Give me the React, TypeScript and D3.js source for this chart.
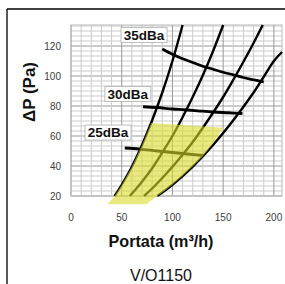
import React from 'react';
import * as d3 from 'd3';

const W = 285;
const H = 284;

// axis ticks
const flowTicks = [0, 50, 100, 150, 200];
const pressureTicks = [20, 40, 60, 80, 100, 120];

// system curves [portata, ΔP]
const curveA = [[43, 20], [50, 27.5], [60, 39.5], [70, 54], [80, 70.5], [90, 89], [100, 110], [110, 134]];
const curveB = [[58, 20], [60, 21.5], [70, 29.5], [80, 38.5], [90, 49], [100, 60], [110, 72.5], [120, 86], [130, 100.5], [140, 116.5], [150, 134]];
const curveC = [[72, 20], [80, 25], [90, 32], [100, 39.5], [110, 47.5], [120, 56], [130, 65.5], [140, 75.5], [150, 86], [160, 97.5], [170, 109.5], [180, 122], [189, 134]];
const curveD = [[85, 20], [90, 22.3], [100, 27.5], [110, 33.3], [120, 39.6], [130, 46.5], [140, 54], [150, 62], [160, 70.5], [170, 79.5], [180, 89], [190, 99.5], [200, 110], [208, 116]];

// iso-noise lines
const noiseNames = ['25dBa', '30dBa', '35dBa'];
const noise25 = [[53, 52], [68, 51.3], [85, 50], [100, 49], [115, 48], [130, 47]];
const noise30 = [[71, 79.5], [85, 79], [100, 78], [112, 77.5], [125, 76.8], [140, 76], [155, 75.5], [169, 75]];
const noise35 = [[90, 118], [100, 114.5], [110, 111.5], [120, 109], [130, 106.5], [140, 104.5], [150, 102.5], [160, 100.8], [170, 99], [180, 97.5], [190, 96]];
const labelSpots = [[36.5, 62.3], [56, 88], [72, 127.3]];

// yellow working zone
const workZone = [[36, 14.5], [43, 20], [50, 27.5], [60, 39.5], [70, 54], [79, 68.7], [150, 65.5], [140, 55], [130, 46.5], [120, 39.6], [110, 33.3], [100, 27.5], [90, 22.3], [85, 20], [74, 14.5]];

export default function App() {
  const x = d3.scaleLinear().domain([0, 208]).range([71, 282]);
  const y = d3.scaleLinear().domain([20, 134]).range([196, 25]);

  const line = d3.line<number[]>().x(d => x(d[0])).y(d => y(d[1])).curve(d3.curveCatmullRom);
  const zone = d3.line<number[]>().x(d => x(d[0])).y(d => y(d[1])).curve(d3.curveLinearClosed);

  const vGrid = d3.range(0, 201, 10);
  const hGrid = d3.range(0, 35).map(i => 20 + (i * 20) / 6).filter(v => v < 134);

  const curves = [curveA, curveB, curveC, curveD];
  const noise = [noise25, noise30, noise35];
  const font = 'Liberation Sans, Arial, sans-serif';

  return (
    <svg width={W} height={H} style={{ position: 'fixed', left: 0, top: 0, background: '#fff' }}>
      <line x1={7} y1={9} x2={W} y2={9} stroke="#000" strokeWidth={1.3} />
      <line x1={7} y1={9} x2={7} y2={H} stroke="#000" strokeWidth={1.3} />

      <g>
        {hGrid.map((v, i) => {
          const major = Math.abs(v % 20) < 0.01;
          return <line key={'h' + i} x1={x(0)} x2={x(208)} y1={y(v)} y2={y(v)}
            stroke={major ? '#999' : '#cbcbcb'} strokeWidth={1} />;
        })}
        {vGrid.map(v => (
          <line key={'v' + v} x1={x(v)} x2={x(v)} y1={y(20)} y2={y(134)}
            stroke={v % 50 === 0 ? '#999' : '#cbcbcb'} strokeWidth={1} />
        ))}
        <rect x={x(0)} y={y(134)} width={x(208) - x(0)} height={y(20) - y(134)} fill="none" stroke="#bbb" strokeWidth={1} />
      </g>

      {curves.map((c, i) => (
        <path key={'c' + i} d={line(c) || ''} fill="none" stroke="#000" strokeWidth={2.4} />
      ))}
      {noise.map((c, i) => (
        <path key={'n' + i} d={line(c) || ''} fill="none" stroke="#000" strokeWidth={2.8} />
      ))}

      <path d={zone(workZone) || ''} fill="#d8dc2a" fillOpacity={0.6} stroke="none" />

      {noiseNames.map((n, i) => {
        const cx = x(labelSpots[i][0]);
        const cy = y(labelSpots[i][1]);
        return (
          <g key={n}>
            <rect x={cx - 23} y={cy - 7.5} width={46} height={15} fill="#fff" stroke="#bdbdbd" strokeWidth={1} />
            <text x={cx} y={cy} dy="0.36em" textAnchor="middle" fontFamily={font}
              fontWeight="bold" fontSize={13.5} fill="#111">{n}</text>
          </g>
        );
      })}

      {flowTicks.map(t => (
        <text key={'xt' + t} x={x(t)} y={221} textAnchor="middle" fontFamily={font}
          fontSize={10} fill="#404040">{t}</text>
      ))}
      {pressureTicks.map(t => (
        <text key={'yt' + t} x={61} y={y(t)} dy="0.35em" textAnchor="end" fontFamily={font}
          fontSize={10} fill="#404040">{t}</text>
      ))}

      <text transform="translate(35,92) rotate(-90)" textAnchor="middle" fontFamily={font}
        fontWeight="bold" fontSize={16} fill="#111" textLength={60} lengthAdjust="spacingAndGlyphs">ΔP (Pa)</text>
      <text x={161} y={247} textAnchor="middle" fontFamily={font}
        fontWeight="bold" fontSize={17} fill="#111" textLength={105} lengthAdjust="spacingAndGlyphs">Portata (m³/h)</text>
      <text x={161} y={281} textAnchor="middle" fontFamily={font}
        fontSize={17} fill="#111" textLength={62} lengthAdjust="spacingAndGlyphs">V/O1150</text>
    </svg>
  );
}
